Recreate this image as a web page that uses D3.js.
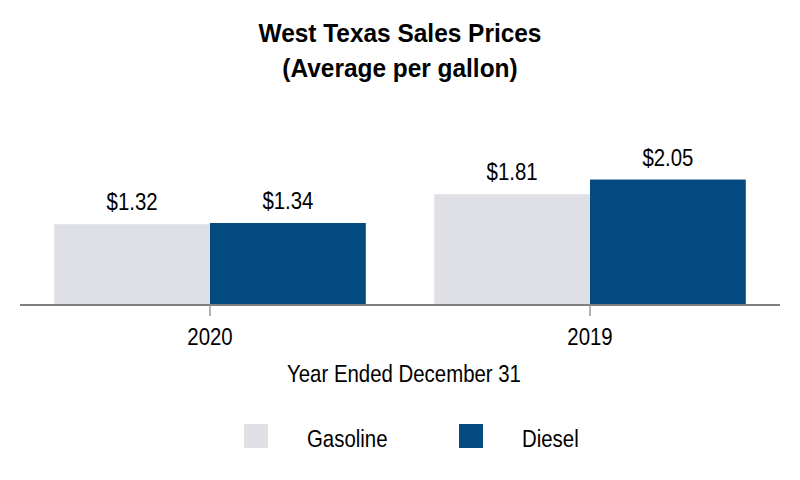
<!DOCTYPE html>
<html>
<head>
<meta charset="utf-8">
<script src="https://cdn.jsdelivr.net/npm/d3@7"></script>
<style>
  body { margin: 0; background: #fff; }
  text { font-family: "Liberation Sans", Arial, sans-serif; fill: #000; }
</style>
</head>
<body>
<svg id="chart" width="800" height="480"></svg>
<script>
// data
var years = ["2020", "2019"];
var seriesNames = ["Gasoline", "Diesel"];
var gasoline = [1.32, 1.81];
var diesel = [1.34, 2.05];
var colors = ["#dfe0e5", "#024a7f"];

var svg = d3.select("#chart");
var baseY = 305;

// the reference uses a condensed face, so squeeze the text horizontally
function label(parent, x, y, str, size, weight, anchor, sx) {
  var g = parent.append("g").attr("transform", "translate(" + x + "," + y + ") scale(" + sx + ",1)");
  g.append("text")
    .attr("text-anchor", anchor)
    .style("font-size", size + "px")
    .style("font-weight", weight)
    .text(str);
  return g;
}

// title
label(svg, 400, 42, "West Texas Sales Prices", 26, "bold", "middle", 0.94);
label(svg, 400, 77, "(Average per gallon)", 26, "bold", "middle", 0.94);

// scales
var x = d3.scaleBand().domain(years).range([20, 780]).paddingInner(0.18).paddingOuter(0.09);
var xs = d3.scaleBand().domain(seriesNames).range([0, x.bandwidth()]);
var y = d3.scaleLinear().domain([0, 2.5]).range([baseY, 152]);

var rows = years.map(function (yr, i) {
  return { year: yr, values: [gasoline[i], diesel[i]] };
});

var groups = svg.selectAll("g.grp").data(rows).enter().append("g")
  .attr("class", "grp")
  .attr("transform", function (d) { return "translate(" + x(d.year) + ",0)"; });

groups.selectAll("rect").data(function (d) { return d.values; }).enter().append("rect")
  .attr("x", function (d, i) { return xs(seriesNames[i]); })
  .attr("width", xs.bandwidth())
  .attr("y", function (d) { return y(d); })
  .attr("height", function (d) { return baseY - y(d); })
  .attr("fill", function (d, i) { return colors[i]; });

groups.each(function (d) {
  var g = d3.select(this);
  d.values.forEach(function (v, i) {
    label(g, xs(seriesNames[i]) + xs.bandwidth() / 2, y(v) - 14, "$" + v.toFixed(2), 24, "normal", "middle", 0.85);
  });
});

// x axis
var axis = svg.append("g").attr("transform", "translate(0," + baseY + ")");
axis.append("line").attr("x1", 20).attr("x2", 780).attr("y1", 0).attr("y2", 0)
  .attr("stroke", "#7f7f7f").attr("stroke-width", 2);
years.forEach(function (yr) {
  var cx = x(yr) + x.bandwidth() / 2;
  axis.append("line")
    .attr("x1", cx).attr("x2", cx)
    .attr("y1", 0).attr("y2", 11)
    .attr("stroke", "#9a9a9a").attr("stroke-width", 1.5);
  label(axis, cx, 40, yr, 24, "normal", "middle", 0.85);
});

label(svg, 404, 382, "Year Ended December 31", 24, "normal", "middle", 0.85);

// legend
var legX = [244, 459];
seriesNames.forEach(function (name, i) {
  var g = svg.append("g").attr("transform", "translate(" + legX[i] + ",424)");
  g.append("rect").attr("width", 24).attr("height", 24).attr("fill", colors[i]);
  label(g, 63, 23, name, 24, "normal", "start", 0.85);
});
</script>
</body>
</html>
